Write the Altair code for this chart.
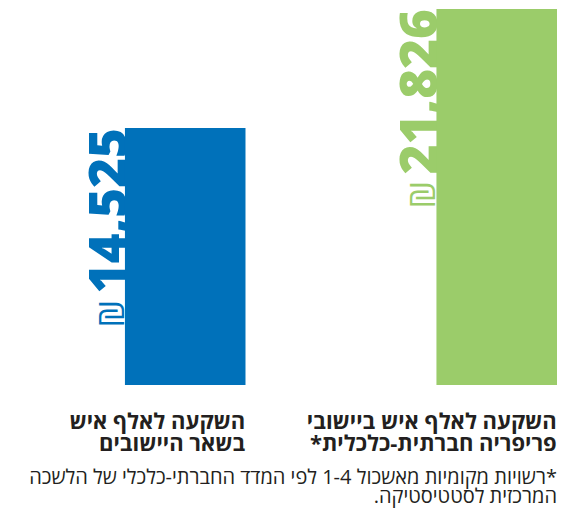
import altair as alt
import pandas as pd

# ---- data ----
categories = ["השקעה לאלף איש|בשאר היישובים",
              "השקעה לאלף איש ביישובי|*פריפריה חברתית-כלכלית"]
values = [14525, 21826]
value_labels = ["14,525", "21,826"]
currency = ["₪", "₪"]
colors = ["#0071BA", "#9BCC6A"]
footnote = ["רשויות מקומיות מאשכול 1-4 לפי המדד החברתי-כלכלי של הלשכה*",
            ".המרכזית לסטטיסטיקה"]
y_domain = [-1243, 21887]

df = pd.DataFrame({"category": categories, "value": values,
                   "label": value_labels, "currency": currency})

FONT = "Open Sans, DejaVu Sans, sans-serif"
TEXT_COLOR = "#231F20"

x_scale = alt.Scale(domain=categories, paddingInner=0.613, paddingOuter=0.1877,
                    align=1, round=False)
x_axis = alt.Axis(title=None, domain=False, ticks=False, grid=False,
                  labelExpr="split(datum.label, '|')", labelAlign="right",
                  labelOffset=60, labelPadding=43, labelBaseline="alphabetic",
                  labelFont=FONT, labelFontSize=22, labelFontWeight="bold",
                  labelColor=TEXT_COLOR, labelLimit=0, labelOverlap=False,
                  labelLineHeight=22, labelAngle=0)


def xenc(bp=None):
    if bp is None:
        return alt.X("category:N", scale=x_scale, axis=x_axis)
    return alt.X("category:N", scale=x_scale, axis=x_axis, bandPosition=bp)


y_scale = alt.Scale(domain=y_domain, nice=False, zero=False)
y_enc = alt.Y("value:Q", scale=y_scale, axis=None)
color_enc = alt.Color("category:N", scale=alt.Scale(domain=categories, range=colors),
                      legend=None)

base = alt.Chart(df)

nums = base.mark_text(angle=270, align="right", baseline="alphabetic",
                      font=FONT, fontSize=51, fontWeight=800, dy=1).encode(
    x=xenc(0), y=y_enc, text="label:N", color=color_enc)

cur = base.mark_text(angle=270, align="right", baseline="alphabetic",
                     font=FONT, fontSize=35, fontWeight="normal", dx=-172, dy=-1).encode(
    x=xenc(0), y=y_enc, text="currency:N", color=color_enc)

bars = base.mark_bar().encode(
    x=xenc(), y=y_enc, y2=alt.Y2(datum=y_domain[0]), color=color_enc)

chart = alt.layer(nums, cur, bars).properties(
    width=549, height=377, autosize="none",
    padding={"left": 0, "top": 0, "right": 0, "bottom": 124},
    title=alt.TitleParams(text=footnote, orient="bottom", anchor="end", frame="group",
                          font=FONT, fontSize=20, fontWeight="normal", color=TEXT_COLOR,
                          lineHeight=18.5, offset=14, baseline="top"),
).configure_view(stroke=None)

chart.save("out.html", embed_options={"renderer": "svg", "actions": False})
